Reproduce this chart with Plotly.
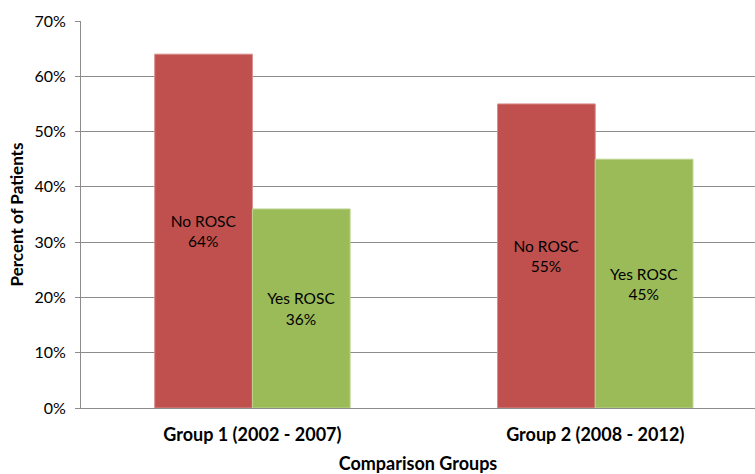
import plotly.graph_objects as go

categories = ["Group 1 (2002 - 2007)", "Group 2 (2008 - 2012)"]
no_rosc = [0.64, 0.55]
yes_rosc = [0.36, 0.45]
series_names = ["No ROSC", "Yes ROSC"]
y_ticks = [0, 0.1, 0.2, 0.3, 0.4, 0.5, 0.6, 0.7]
y_tick_labels = ["0%", "10%", "20%", "30%", "40%", "50%", "60%", "70%"]

RED = "#C0504D"
GREEN = "#9BBB59"
FONT = "Lato, 'Open Sans', sans-serif"
GRID = "#8C8C8C"

def labels(name, vals):
    return [f"{name}<br>{round(v*100)}%" for v in vals]

fig = go.Figure()
fig.add_trace(go.Bar(
    x=categories, y=no_rosc, name=series_names[0],
    marker=dict(color=RED, line=dict(color="#D98C8A", width=1)),
    text=labels(series_names[0], no_rosc), textposition="inside",
    insidetextanchor="middle", textangle=0,
    textfont=dict(family=FONT, size=15.5, color="black"),
))
fig.add_trace(go.Bar(
    x=categories, y=yes_rosc, name=series_names[1],
    marker=dict(color=GREEN, line=dict(color="#BCD38F", width=1)),
    text=labels(series_names[1], yes_rosc), textposition="inside",
    insidetextanchor="middle", textangle=0,
    textfont=dict(family=FONT, size=15.5, color="black"),
))

fig.update_layout(
    width=755, height=474,
    margin=dict(l=81, r=0, t=21, b=66),
    paper_bgcolor="white", plot_bgcolor="white",
    barmode="group", bargap=0.43, bargroupgap=0,
    showlegend=False,
    font=dict(family=FONT, size=14, color="black"),
    uniformtext=dict(mode=False),
)
fig.update_xaxes(
    type="category", range=[-0.5, 1.466],
    showline=True, linecolor=GRID, linewidth=1,
    ticks="", showgrid=False, ticklabelstandoff=10,
    tickfont=dict(family=FONT, size=18, color="black", weight="bold"),
    title=dict(text="Comparison Groups", standoff=13,
               font=dict(family=FONT, size=18, color="black", weight="bold")),
)
fig.update_yaxes(
    range=[0, 0.7], tickvals=y_ticks, ticktext=y_tick_labels,
    showgrid=True, gridcolor=GRID, gridwidth=1,
    showline=True, linecolor=GRID, linewidth=1,
    ticks="outside", ticklen=5, tickcolor=GRID, ticklabelstandoff=6,
    tickfont=dict(family=FONT, size=16, color="black"),
    zeroline=False,
    title=dict(text="Percent of Patients", standoff=6,
               font=dict(family=FONT, size=17, color="black", weight="bold")),
)

fig.write_html("out.html")
